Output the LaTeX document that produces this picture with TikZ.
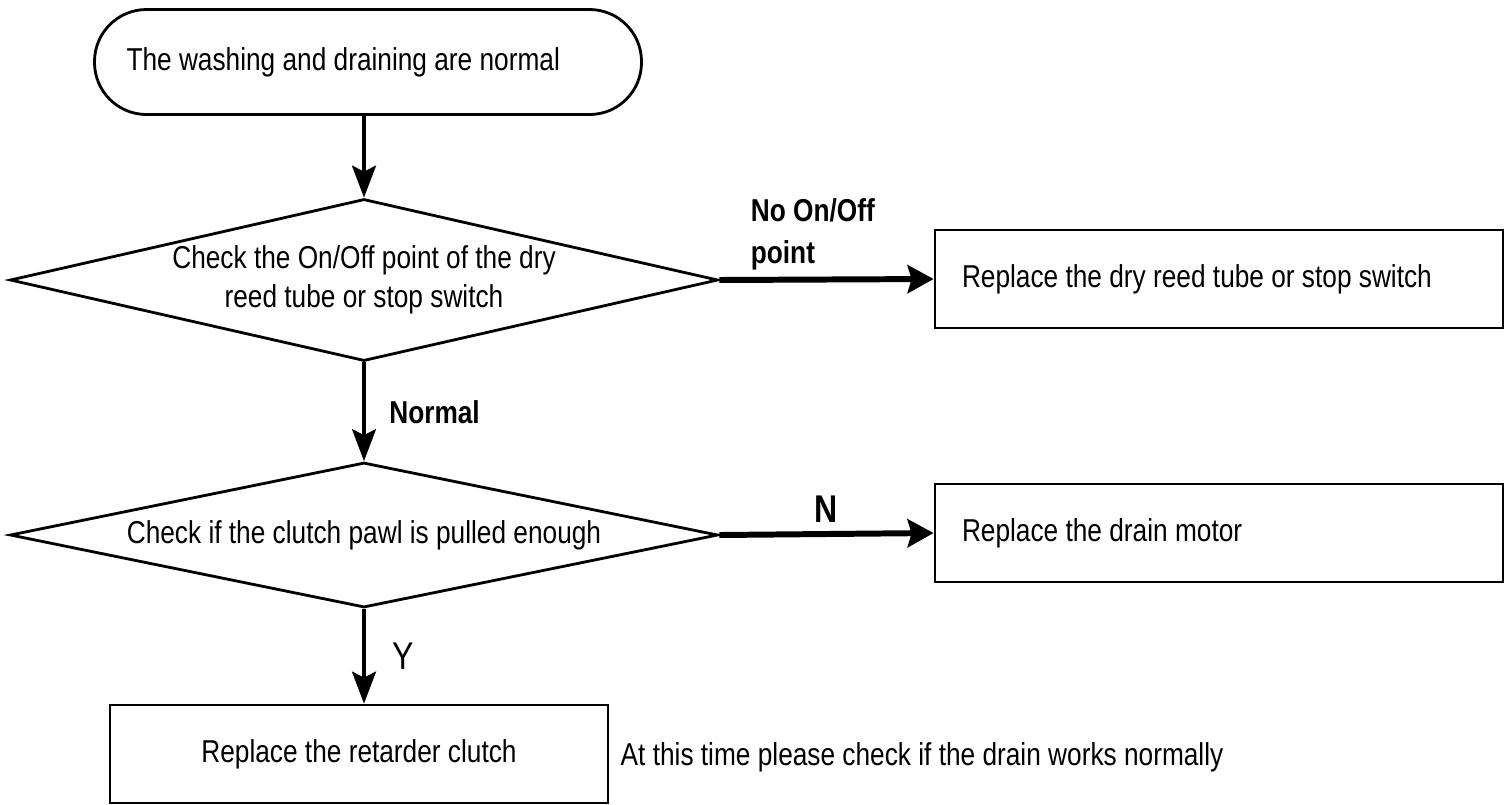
\documentclass[tikz,border=0pt]{standalone}
\usepackage{fontspec}
\setmainfont{Liberation Sans}[FakeStretch=0.83]
\usepackage{xcolor}
\usepackage{tikz}
\usetikzlibrary{shapes.geometric,arrows.meta}

\tikzset{
  startbox/.style = {draw, thick, rounded corners=0.52cm, minimum height=1.05cm},
  checkbox/.style = {draw, thick, diamond, inner sep=1pt, align=center},
  taskbox/.style  = {draw, thick, rectangle, minimum height=0.98cm},
  flow/.style     = {line width=0.9pt, -{Stealth[length=0.32cm, width=0.24cm, inset=0.06cm]}},
  sideflow/.style = {line width=1.7pt, -{Stealth[length=0.26cm, width=0.28cm, inset=0.04cm]}}
}

\begin{document}
\begin{tikzpicture}[font=\fontsize{9}{11}\selectfont]

\useasboundingbox (0,0) rectangle (15.05,8.04);

\node[startbox, text width=4.83cm, inner xsep=0.32cm, align=flush left] (start) at (3.68, 7.42) {The washing and draining are normal};
\node[checkbox, aspect=4.37, inner ysep=-0.1cm, minimum width=7.08cm, minimum height=1.62cm] (reed) at (3.64, 5.24) {Check the On/Off point of the dry\\reed tube or stop switch};
\node[checkbox, aspect=4.88, minimum width=7.08cm, minimum height=1.45cm] (pawl) at (3.64, 2.69) {Check if the clutch pawl is pulled enough};
\node[taskbox, text width=5.14cm, inner xsep=0.27cm, align=flush left] (switch) at (12.19, 5.25) {Replace the dry reed tube or stop switch};
\node[taskbox, text width=5.14cm, inner xsep=0.27cm, align=flush left] (motor) at (12.19, 2.71) {Replace the drain motor};
\node[taskbox, minimum width=4.98cm] (clutch) at (3.59, 0.50) {Replace the retarder clutch};
\node[anchor=west, inner sep=0pt] (note) at (6.20, 0.47) {At this time please check if the drain works normally};

\draw[flow] (start.south -| reed.north) -- (reed.north);
\draw[sideflow] (reed.east) -- (switch.west) node[pos=0.1, above right, align=left, inner sep=2pt, font=\fontsize{9}{12}\selectfont\bfseries] (nopoint) {No On/Off\\point};
\draw[flow] (reed.south) -- (pawl.north) node[midway, right, xshift=0.12cm, font=\fontsize{9}{11}\selectfont\bfseries] (normal) {Normal};
\draw[sideflow] (pawl.east) -- (motor.west) node[midway, above, yshift=-0.03cm, font=\fontsize{11}{13}\selectfont\bfseries] (no) {N};
\draw[flow] (pawl.south) -- (pawl.south |- clutch.north) node[midway, right, xshift=0.15cm, font=\fontsize{11}{13}\selectfont] (yes) {Y};

\end{tikzpicture}
\end{document}
